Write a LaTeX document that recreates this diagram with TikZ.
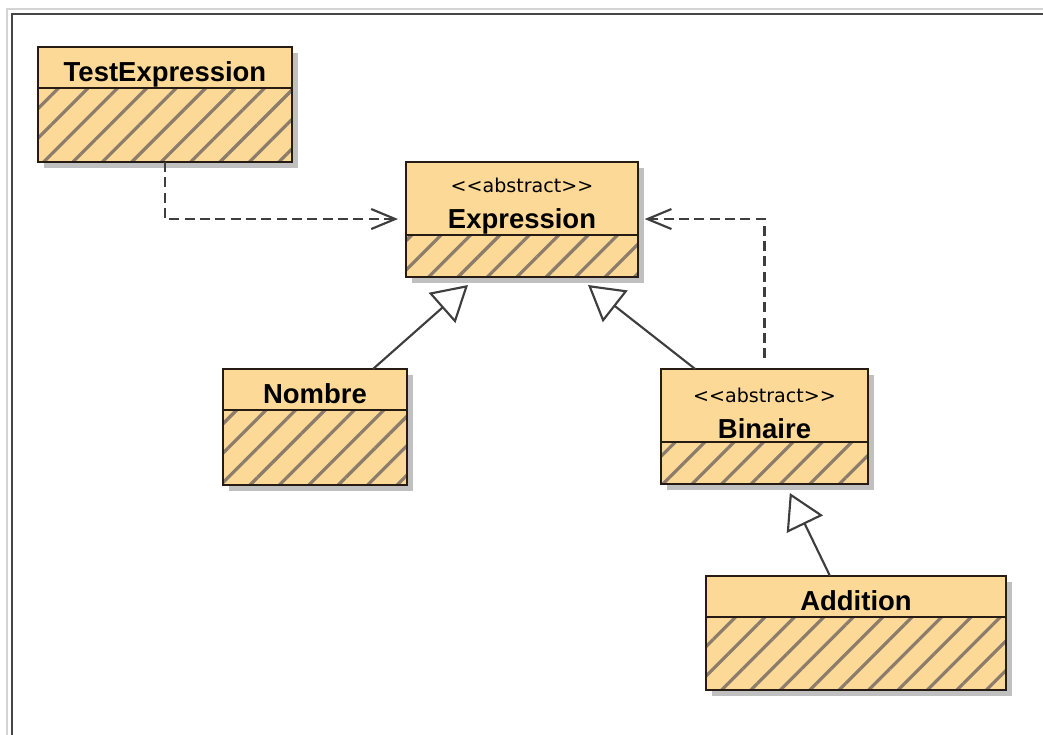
\documentclass[tikz,border=0pt]{standalone}
\usepackage{fontspec}
\setmainfont{Liberation Sans}
\newfontfamily\stereofont{DejaVu Sans}
\usepackage{xcolor}
\usepackage{tikz}
\usetikzlibrary{positioning,arrows.meta,shadows,patterns.meta}

\definecolor{classfill}{RGB}{252,217,150}
\definecolor{hatchcol}{RGB}{140,124,108}
\definecolor{classline}{RGB}{38,28,20}
\definecolor{linkcol}{RGB}{62,62,62}
\definecolor{shadowcol}{RGB}{192,192,192}
\definecolor{framelight}{RGB}{212,212,212}
\definecolor{framedark}{RGB}{70,70,70}

\newcommand{\stereo}{{\stereofont\mdseries\fontsize{14.3}{16}\selectfont \rule{0pt}{22.5pt}<\kern0pt<abstract>\kern0pt>}}

\begin{document}
\begin{tikzpicture}[x=0.75pt,y=-0.75pt,
  head/.style={draw=classline, line width=2pt, outer sep=0pt, inner sep=2pt,
    general shadow={fill=shadowcol, shadow xshift=4.5pt, shadow yshift=-4.5pt},
    fill=classfill, font=\bfseries\fontsize{20.6}{24}\selectfont, align=center},
  single/.style={head, text height=21.6pt, text depth=0pt},
  abstracthead/.style={head, inner ysep=0pt},
  body/.style={draw=classline, line width=2pt, outer sep=0pt, inner sep=0pt,
    general shadow={fill=shadowcol, shadow xshift=4.5pt, shadow yshift=-4.5pt},
    preaction={fill=classfill},
    pattern={Lines[angle=45,distance=15.6pt,line width=2.4pt]}, pattern color=hatchcol},
  gen/.style={draw=linkcol, line width=1.6pt, -{Triangle[open, length=26pt, width=30pt]}},
  dep/.style={draw=linkcol, line width=1.6pt, dash pattern=on 7.5pt off 4pt,
    -{Straight Barb[length=18pt, width=15pt]}}]

\useasboundingbox (0,0) rectangle (1043,735);

\draw [framelight, line width=1.5pt] (7,735) -- (7,9) -- (1043,9);
\draw [framedark, line width=1.5pt] (12,735) -- (12,14) -- (1043,14);

% classes
\node [single, minimum width=190.5pt, minimum height=30.75pt] (testexpr) at (165,67.5) {TestExpression};
\node [body, below=0pt of testexpr, minimum width=190.5pt, minimum height=55.5pt] (testexpr-att) {};

\node [abstracthead, minimum width=174pt, minimum height=54.75pt] (expr) at (522,198.5) {\stereo\\[3pt]Expression};
\node [body, below=0pt of expr, minimum width=174pt, minimum height=31.5pt] (expr-att) {};

\node [single, minimum width=138pt, minimum height=30.75pt] (nombre) at (315,389.5) {Nombre};
\node [body, below=0pt of nombre, minimum width=138pt, minimum height=56.25pt] (nombre-att) {};

\node [abstracthead, minimum width=155.25pt, minimum height=54.75pt] (binaire) at (764.5,405.5) {\stereo\\[3pt]Binaire};
\node [body, below=0pt of binaire, minimum width=155.25pt, minimum height=31.5pt] (binaire-att) {};

\node [single, minimum width=225pt, minimum height=30.75pt] (addition) at (856,596.5) {Addition};
\node [body, below=0pt of addition, minimum width=225pt, minimum height=54.75pt] (addition-att) {};

% links
\draw [dep, shorten >=6pt] (testexpr-att.south) |- ([yshift=-15.4pt]expr.west);
\draw [dep, shorten <=8pt, shorten >=5pt] (binaire.north) |- ([yshift=-15.4pt]expr.east);

\draw [gen] ([xshift=43.5pt]nombre.north) -- ([xshift=-40.5pt,yshift=-6pt]expr-att.south);
\draw [gen] ([xshift=-52pt]binaire.north) -- ([xshift=49.5pt,yshift=-6pt]expr-att.south);
\draw [gen] ([xshift=-19.5pt]addition.north) -- ([xshift=19pt,yshift=-6.75pt]binaire-att.south);

\end{tikzpicture}
\end{document}
